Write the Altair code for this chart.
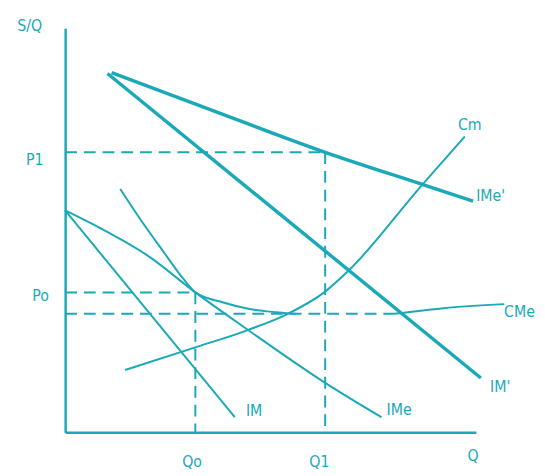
import altair as alt
import pandas as pd

TEAL = "#1aa9b8"
FONT = "DejaVu Sans Condensed, Liberation Sans, sans-serif"

# ---- curves (Q, P in chart units: 0..100 on both axes) ----
ime2_q = [11.3, 33.7, 63.3, 88.0, 99.3]          # IMe'
ime2_p = [89.0, 80.5, 69.3, 61.0, 57.2]
im2_q = [10.3, 101.2]                             # IM'
im2_p = [88.8, 13.4]
cm_q = [14.6, 31.7, 44.8, 54.2, 63.3, 69.2, 86.7, 97.3]   # Cm
cm_p = [15.4, 21.0, 25.4, 29.3, 34.8, 40.2, 61.0, 73.2]
cme_q_a = [13.4, 18.5, 24.2, 28.9, 31.7, 38.5, 44.9, 51.3, 56.1]   # CMe (left part)
cme_p_a = [60.2, 52.4, 44.3, 37.8, 34.6, 32.1, 30.5, 29.7, 29.3]
cme_q_b = [80.1, 92.1, 106.9]                                     # CMe (right part)
cme_p_b = [29.3, 30.7, 31.7]
ime_q = [0, 8.2, 20.1, 31.7, 44.1, 63.3, 77.0]   # IMe
ime_p = [54.9, 50.7, 43.7, 34.6, 25.6, 12.2, 3.7]
im_q = [0, 41.3]                                  # IM
im_p = [54.9, 3.7]

# ---- reference levels ----
p1, q1 = 69.3, 63.3
p0, q0 = 34.6, 31.7
cme_min, cme_dash_end = 29.3, 80.1

# ---- labels ----
label_text = ["S/Q", "P1", "Po", "Qo", "Q1", "Q", "IM", "IMe", "IM'", "IMe'", "Cm", "CMe"]
label_q = [-8.6, -7.4, -6.0, 30.9, 61.9, 99.3, 46.0, 81.3, 105.9, 103.6, 98.5, 110.6]
label_p = [100.6, 67.3, 33.7, -7.3, -7.5, -5.9, 5.1, 5.4, 11.2, 58.5, 76.0, 29.8]


def frame(name, qs, ps):
    return pd.DataFrame({"seg": name, "q": qs, "p": ps, "i": list(range(len(qs)))})


thin = pd.concat([
    frame("IM", im_q, im_p),
    frame("IMe", ime_q, ime_p),
    frame("Cm", cm_q, cm_p),
    frame("CMe-a", cme_q_a, cme_p_a),
    frame("CMe-b", cme_q_b, cme_p_b),
])
thick = pd.concat([
    frame("IMe'", ime2_q, ime2_p),
    frame("IM'", im2_q, im2_p),
])
dashed = pd.concat([
    frame("P1h", [0, q1], [p1, p1]),
    frame("Q1v", [q1, q1], [p1, 0]),
    frame("P0h", [0, q0], [p0, p0]),
    frame("Q0v", [q0, q0], [p0, 0]),
    frame("CMeh", [0, cme_dash_end], [cme_min, cme_min]),
])
labels = pd.DataFrame({"t": label_text, "q": label_q, "p": label_p})

xs = alt.Scale(domain=[0, 100], nice=False, zero=False)
ys = alt.Scale(domain=[0, 100], nice=False, zero=False)
ax = alt.Axis(domain=True, domainColor=TEAL, domainWidth=2.5, ticks=False,
              labels=False, grid=False, title="")


def enc(ch):
    return ch.encode(
        x=alt.X("q:Q", scale=xs, axis=ax),
        y=alt.Y("p:Q", scale=ys, axis=ax),
        detail="seg:N",
        order="i:Q",
    )


thin_layer = enc(alt.Chart(thin).mark_line(color=TEAL, strokeWidth=2, interpolate="monotone"))
thick_layer = enc(alt.Chart(thick).mark_line(color=TEAL, strokeWidth=3.5, interpolate="monotone"))
dash_layer = enc(alt.Chart(dashed).mark_line(color=TEAL, strokeWidth=2, strokeDash=[12, 7]))
text_layer = alt.Chart(labels).mark_text(
    font=FONT, fontSize=16, color=TEAL, align="center", baseline="middle"
).encode(
    x=alt.X("q:Q", scale=xs, axis=ax),
    y=alt.Y("p:Q", scale=ys, axis=ax),
    text="t:N",
)

chart = alt.layer(dash_layer, thin_layer, thick_layer, text_layer).properties(
    width=417,
    height=410,
    padding={"left": 58, "top": 17, "right": 62, "bottom": 45},
    autosize=alt.AutoSizeParams(type="none"),
    background="white",
).configure_view(strokeOpacity=0)

chart.save("out.html", embed_options={"renderer": "svg", "actions": False})
